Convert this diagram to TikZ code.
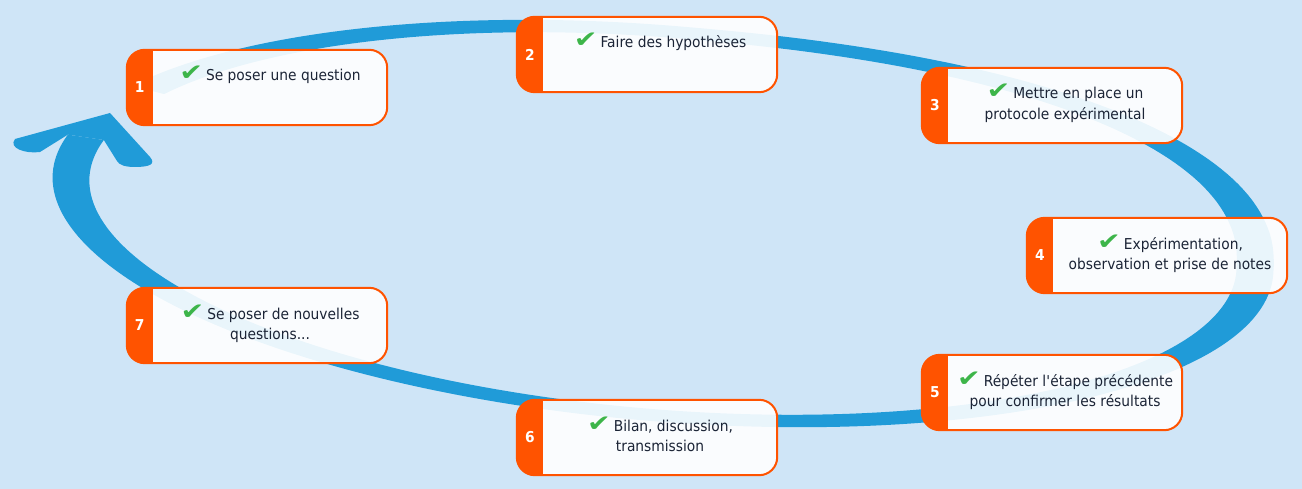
\documentclass[tikz,border=0pt]{standalone}
\usepackage{fontspec}
\setmainfont{DejaVu Sans}[FakeStretch=0.92]
\newfontfamily\chkfont{DejaVu Sans}
\definecolor{bgc}{HTML}{CFE5F7}
\definecolor{ringc}{HTML}{209BD8}
\definecolor{orangec}{HTML}{FF5300}
\definecolor{textc}{HTML}{1B2436}
\definecolor{chkc}{HTML}{3DB54A}
\newcommand\chk{{\chkfont\fontsize{21}{21}\selectfont\color{chkc}\scalebox{1.35}[1.1]{✔}}}
\newcommand\stepcard[5]{%
  \node[card] (b#1) at ({#2+130},{-#3-37.5}) {};
  \begin{scope}
    \clip[rounded corners=18pt] (b#1.south west) rectangle (b#1.north east);
    \fill[orangec] (b#1.south west) rectangle ([xshift=26pt]b#1.north west);
  \end{scope}
  \draw[cardborder] (b#1.south west) rectangle (b#1.north east);
  \node[num] (n#1) at ([xshift=13pt]b#1.west) {#4};
  \node[txt] (t#1) at ([xshift=13pt,yshift=-13pt]b#1.north) {\rule{0pt}{18pt}\chk\hspace{3pt}#5};
}
\begin{document}
\begin{tikzpicture}[x=1pt,y=1pt,
  card/.style={rectangle, minimum width=260pt, minimum height=75pt, inner sep=0pt,
    rounded corners=18pt, fill=white, fill opacity=0.9},
  cardborder/.style={draw=orangec, line width=2pt, rounded corners=18pt},
  num/.style={text=white, inner sep=0pt, font=\bfseries\fontsize{15}{15}\selectfont},
  txt/.style={text=textc, anchor=north, inner sep=0pt, align=center,
    font=\fontsize{15}{20.5}\selectfont}]
\useasboundingbox (0,0) rectangle (1302,-489);
\fill[bgc] (0,0) rectangle (1302,-489);
% ring (scaled annulus, fuller in the upper right quadrant)
\begin{scope}[shift={(663,-223.5)}, rotate=-4.8]
  \fill[ringc] (152:612.4pt and 197.8pt)
    arc[start angle=152, end angle=90, x radius=612.4pt, y radius=197.8pt]
    -- plot[domain=90:0, samples=60] ({612.4*pow(abs(cos(\x))+0.00001,0.87)}, {197.8*pow(abs(sin(\x))+0.00001,0.87)})
    arc[start angle=0, end angle=-191.3, x radius=612.4pt, y radius=197.8pt]
    -- (-191.3:575.4pt and 185.8pt)
    arc[start angle=-191.3, end angle=0, x radius=575.4pt, y radius=185.8pt]
    -- plot[domain=0:90, samples=60] ({575.4*pow(abs(cos(\x))+0.00001,0.87)}, {185.8*pow(abs(sin(\x))+0.00001,0.87)})
    arc[start angle=90, end angle=152, x radius=575.4pt, y radius=185.8pt] -- cycle;
  \coordinate (ro) at (-191.3:612.4pt and 197.8pt);
  \coordinate (ri) at (-191.3:575.4pt and 185.8pt);
\end{scope}
% arrow head
\fill[ringc] (ro) -- (40,-152) .. controls (25,-154) and (8,-148) .. (15,-139)
  -- (110,-113) -- (150,-157) .. controls (156,-164) and (150,-167) .. (135,-167)
  .. controls (125,-167) and (119,-165) .. (117,-161) -- (ri) -- cycle;
% steps
\stepcard{1}{127}{50}{1}{Se poser une question}
\stepcard{2}{517}{17}{2}{Faire des hypothèses}
\stepcard{3}{922}{68}{3}{Mettre en place un\\protocole expérimental}
\stepcard{4}{1027}{218}{4}{Expérimentation,\\observation et prise de notes}
\stepcard{5}{922}{355}{5}{Répéter l\textquotesingle étape précédente\\pour confirmer les résultats}
\stepcard{6}{517}{400}{6}{Bilan, discussion,\\transmission}
\stepcard{7}{127}{288}{7}{Se poser de nouvelles\\questions...}
\end{tikzpicture}
\end{document}
